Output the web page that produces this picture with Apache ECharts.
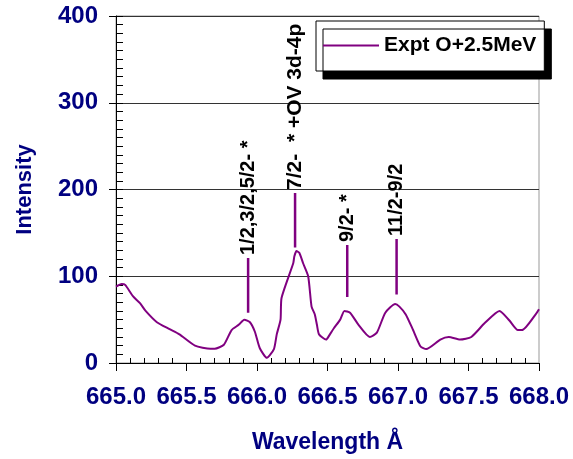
<!DOCTYPE html>
<html>
<head>
<meta charset="utf-8">
<script src="https://cdn.jsdelivr.net/npm/echarts@6/dist/echarts.min.js"></script>
<style>
  html, body { margin: 0; padding: 0; background: #fff; }
  #main { width: 573px; height: 459px; }
</style>
</head>
<body>
<div id="main"></div>
<script>
var wavelength = [665.00, 665.04, 665.065, 665.12, 665.17, 665.21, 665.29, 665.38, 665.45, 665.56,
  665.67, 665.70, 665.765, 665.82, 665.87, 665.91, 665.95, 665.985, 666.02, 666.07,
  666.12, 666.14, 666.167, 666.174, 666.257, 666.265, 666.28, 666.30, 666.327, 666.363,
  666.387, 666.41, 666.425, 666.44, 666.49, 666.517, 666.545, 666.59, 666.62, 666.66,
  666.72, 666.80, 666.85, 666.91, 666.98, 667.01, 667.055, 667.107, 667.16, 667.20,
  667.30, 667.36, 667.44, 667.52, 667.615, 667.72, 667.79, 667.85, 667.88, 667.98, 668.00];
var intensity = [88, 91, 90, 77, 69, 60, 47, 39, 33, 20,
  16.5, 16.5, 21, 38, 44, 50, 47, 36, 17, 6,
  16, 33, 50, 75, 115, 123, 129, 127, 115, 100,
  65, 56, 44, 33, 27, 33, 40, 50, 60, 58,
  44, 30, 35, 58, 68, 65, 56, 38, 19, 16,
  27, 30, 27, 30, 46, 60, 49, 38, 38, 57, 62];

var markerX = [665.937, 666.27, 666.64, 666.99];
var markerLow = [58, 133, 76, 79];
var markerHigh = [121, 196, 136, 143];
var markerLabels = ['1/2,3/2,5/2- *', '7/2-  * +OV 3d-4p', '9/2- *', '11/2-9/2'];
var markerFont = [20, 21, 20, 20];

var seriesName = 'Expt O+2.5MeV';
var navy = '#000080';
var purple = '#800080';
var font = 'Arial, "Liberation Sans", sans-serif';

var chart = echarts.init(document.getElementById('main'));

var curve = [];
for (var i = 0; i < wavelength.length; i++) {
  curve.push([wavelength[i], intensity[i]]);
}

var series = [
  {
    name: seriesName,
    type: 'line',
    data: curve,
    symbol: 'none',
    smooth: 0.2,
    lineStyle: { color: purple, width: 2 },
    itemStyle: { color: purple },
    z: 3
  }
];

// vertical marker lines, label sits on the top point
for (var k = 0; k < markerX.length; k++) {
  series.push({
    type: 'line',
    symbol: 'circle',
    symbolSize: 0,
    showAllSymbol: true,
    silent: true,
    lineStyle: { color: purple, width: 2.5 },
    itemStyle: { color: purple },
    data: [
      [markerX[k], markerLow[k]],
      {
        value: [markerX[k], markerHigh[k]],
        label: {
          show: true,
          position: 'top',
          distance: 3,
          rotate: 90,
          align: 'left',
          verticalAlign: 'middle',
          formatter: markerLabels[k],
          color: '#000',
          fontSize: markerFont[k],
          fontWeight: 'bold',
          fontFamily: font
        }
      }
    ]
  });
}

var gridBox = { left: 116, right: 34, top: 16, bottom: 96 };

var option = {
  animation: false,
  backgroundColor: '#fff',
  grid: [
    Object.assign({ show: true, borderColor: '#999', borderWidth: 1 }, gridBox),
    Object.assign({ show: false }, gridBox)
  ],
  legend: {
    data: [seriesName],
    left: 316,
    top: 21,
    orient: 'horizontal',
    icon: 'rect',
    padding: [14, 8, 15, 7],
    itemWidth: 56,
    itemHeight: 2,
    backgroundColor: '#fff',
    borderColor: '#000',
    borderWidth: 1,
    borderRadius: 0,
    shadowColor: '#000',
    shadowBlur: 0,
    shadowOffsetX: 7,
    shadowOffsetY: 8,
    textStyle: { color: '#000', fontSize: 21, fontWeight: 'bold', fontFamily: font }
  },
  xAxis: [
    {
      type: 'value',
      gridIndex: 0,
      min: 665, max: 668, interval: 0.5,
      name: 'Wavelength Å',
      nameLocation: 'middle',
      nameGap: 68,
      nameTextStyle: { color: navy, fontSize: 23, fontWeight: 'bold', fontFamily: font },
      axisLine: { show: true, lineStyle: { color: '#000', width: 1 } },
      axisTick: { show: true, inside: false, length: 8, lineStyle: { color: '#000' } },
      axisLabel: {
        color: navy, fontSize: 24, fontWeight: 'bold', fontFamily: font, margin: 22,
        formatter: function (v) { return v.toFixed(1); }
      },
      splitLine: { show: false }
    },
    {
      type: 'value',
      gridIndex: 1,
      min: 665, max: 668, interval: 0.5,
      position: 'bottom',
      axisLine: { show: false },
      axisTick: { show: false, inside: true },
      minorTick: { show: true, splitNumber: 5, length: 5, lineStyle: { color: '#000' } },
      axisLabel: { show: false },
      splitLine: { show: false }
    }
  ],
  yAxis: [
    {
      type: 'value',
      gridIndex: 0,
      min: 0, max: 400, interval: 100,
      name: 'Intensity',
      nameLocation: 'middle',
      nameGap: 80,
      nameTextStyle: { color: navy, fontSize: 22, fontWeight: 'bold', fontFamily: font },
      axisLine: { show: true, lineStyle: { color: '#000', width: 1 } },
      axisTick: { show: true, inside: false, length: 7, lineStyle: { color: '#000' } },
      axisLabel: { color: navy, fontSize: 24, fontWeight: 'bold', fontFamily: font, margin: 18 },
      splitLine: { show: true, lineStyle: { color: '#333', width: 1 } }
    },
    {
      type: 'value',
      gridIndex: 1,
      min: 0, max: 400, interval: 100,
      position: 'left',
      axisLine: { show: false },
      axisTick: { show: true, inside: true, length: 7, lineStyle: { color: '#000' } },
      minorTick: { show: true, splitNumber: 10, length: 7, lineStyle: { color: '#000' } },
      axisLabel: { show: false },
      splitLine: { show: false }
    }
  ],
  series: series
};

chart.setOption(option);
</script>
</body>
</html>
